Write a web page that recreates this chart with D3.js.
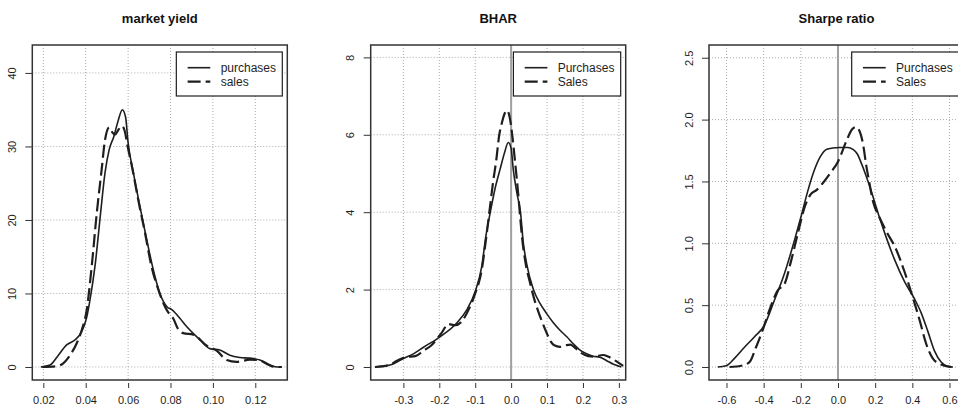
<!DOCTYPE html>
<html>
<head>
<meta charset="utf-8">
<script src="https://cdn.jsdelivr.net/npm/d3@7"></script>
<style>
  html, body { margin: 0; padding: 0; background: #fff; }
  svg { display: block; font-family: "Liberation Sans", Arial, Helvetica, sans-serif; }
</style>
</head>
<body>
<svg id="chart" width="958" height="406"></svg>
<script>
// Kernel density estimates of three performance measures: purchases vs sales.

const titles = ["market yield", "BHAR", "Sharpe ratio"];
const legendLabels = [["purchases", "sales"], ["Purchases", "Sales"], ["Purchases", "Sales"]];

// ---- market yield ----
const yieldXDomain = [0.0148, 0.1351];
const yieldYDomain = [-1.77, 43.8];
const yieldXTicks = [0.02, 0.04, 0.06, 0.08, 0.10, 0.12];
const yieldXLabels = ["0.02", "0.04", "0.06", "0.08", "0.10", "0.12"];
const yieldYTicks = [0, 10, 20, 30, 40];
const yieldYLabels = ["0", "10", "20", "30", "40"];
const yieldPurchases = [
  [0.0188, 0], [0.0232, 0.27], [0.0271, 1.6], [0.031, 3.0], [0.035, 3.7], [0.0381, 4.8],
  [0.0405, 6.8], [0.042, 9.1], [0.0445, 14.0], [0.047, 20.9], [0.0491, 26.4], [0.0511, 29.6],
  [0.0532, 31.3], [0.0552, 33.4], [0.0573, 35.0], [0.0588, 34.0], [0.060, 30.5], [0.0625, 26.4],
  [0.0656, 21.8], [0.0688, 17.3], [0.0719, 13.2], [0.075, 10.0], [0.0783, 8.2], [0.0806, 7.8],
  [0.0845, 6.6], [0.0876, 5.5], [0.0939, 3.7], [0.0986, 2.5], [0.1033, 2.3], [0.108, 1.6],
  [0.1127, 1.3], [0.1175, 1.2], [0.1222, 0.95], [0.127, 0.27], [0.1305, 0], [0.1325, 0]
];
const yieldSales = [
  [0.0195, 0], [0.0263, 0.1], [0.0294, 0.5], [0.0326, 1.6], [0.0357, 3.2], [0.0381, 5.0],
  [0.0405, 7.8], [0.0428, 13.6], [0.0452, 20.9], [0.0475, 26.8], [0.0491, 30.9], [0.0511, 32.6],
  [0.0526, 31.9], [0.0538, 31.6], [0.0555, 32.3], [0.057, 32.8], [0.0583, 32.2], [0.0598, 30.0],
  [0.062, 27.0], [0.0648, 22.7], [0.068, 18.2], [0.0711, 13.6], [0.0743, 10.5], [0.0774, 8.2],
  [0.0795, 7.2], [0.0813, 6.6], [0.0835, 5.2], [0.086, 4.6], [0.0908, 4.4], [0.0971, 2.9],
  [0.1019, 2.2], [0.1065, 0.95], [0.1112, 0.7], [0.1175, 1.0], [0.122, 0.9], [0.1262, 0.3],
  [0.1295, 0], [0.1325, 0]
];

// ---- BHAR ----
const bharXDomain = [-0.391, 0.319];
const bharYDomain = [-0.336, 8.32];
const bharXTicks = [-0.3, -0.2, -0.1, 0.0, 0.1, 0.2, 0.3];
const bharXLabels = ["-0.3", "-0.2", "-0.1", "0.0", "0.1", "0.2", "0.3"];
const bharYTicks = [0, 2, 4, 6, 8];
const bharYLabels = ["0", "2", "4", "6", "8"];
const bharPurchases = [
  [-0.379, 0], [-0.337, 0.05], [-0.3, 0.22], [-0.272, 0.34], [-0.244, 0.51], [-0.198, 0.78],
  [-0.152, 1.13], [-0.124, 1.47], [-0.1, 1.95], [-0.082, 2.59], [-0.07, 3.4], [-0.058, 4.0],
  [-0.045, 4.6], [-0.031, 5.1], [-0.018, 5.55], [-0.008, 5.8], [0.0, 5.65], [0.006, 5.1],
  [0.016, 4.5], [0.026, 4.0], [0.034, 3.2], [0.043, 2.68], [0.062, 2.0], [0.08, 1.65],
  [0.099, 1.38], [0.117, 1.15], [0.136, 0.95], [0.155, 0.78], [0.173, 0.6], [0.19, 0.45],
  [0.21, 0.34], [0.228, 0.28], [0.247, 0.25], [0.265, 0.17], [0.285, 0.07], [0.3, 0.02], [0.307, 0]
];
const bharSales = [
  [-0.379, 0], [-0.34, 0.05], [-0.318, 0.16], [-0.291, 0.26], [-0.267, 0.28], [-0.244, 0.42],
  [-0.221, 0.57], [-0.193, 0.89], [-0.175, 1.11], [-0.156, 1.08], [-0.138, 1.17], [-0.119, 1.47],
  [-0.1, 1.9], [-0.082, 2.5], [-0.07, 3.3], [-0.058, 4.2], [-0.05, 4.8], [-0.042, 5.3],
  [-0.033, 6.0], [-0.026, 6.3], [-0.018, 6.55], [-0.011, 6.63], [-0.004, 6.45], [0.003, 6.0],
  [0.011, 5.3], [0.02, 4.44], [0.024, 4.0], [0.031, 3.3], [0.04, 2.7], [0.052, 2.2],
  [0.063, 1.8], [0.075, 1.45], [0.087, 1.15], [0.099, 0.88], [0.11, 0.66], [0.12, 0.56],
  [0.136, 0.52], [0.152, 0.56], [0.165, 0.58], [0.18, 0.48], [0.196, 0.36], [0.215, 0.28],
  [0.232, 0.27], [0.256, 0.31], [0.27, 0.27], [0.289, 0.17], [0.312, 0.03]
];

// ---- Sharpe ratio ----
const sharpeXDomain = [-0.694, 0.678];
const sharpeYDomain = [-0.105, 2.603];
const sharpeXTicks = [-0.6, -0.4, -0.2, 0.0, 0.2, 0.4, 0.6];
const sharpeXLabels = ["-0.6", "-0.4", "-0.2", "0.0", "0.2", "0.4", "0.6"];
const sharpeYTicks = [0, 0.5, 1.0, 1.5, 2.0, 2.5];
const sharpeYLabels = ["0.0", "0.5", "1.0", "1.5", "2.0", "2.5"];
const sharpePurchases = [
  [-0.647, 0], [-0.602, 0.01], [-0.557, 0.07], [-0.503, 0.16], [-0.449, 0.245], [-0.399, 0.33],
  [-0.342, 0.54], [-0.288, 0.756], [-0.234, 1.025], [-0.198, 1.22], [-0.163, 1.42], [-0.13, 1.58],
  [-0.095, 1.7], [-0.06, 1.76], [-0.028, 1.77], [0.01, 1.775], [0.053, 1.775], [0.08, 1.76],
  [0.105, 1.72], [0.125, 1.65], [0.15, 1.55], [0.175, 1.44], [0.2, 1.32], [0.225, 1.2],
  [0.259, 1.05], [0.304, 0.87], [0.358, 0.69], [0.412, 0.55], [0.447, 0.44], [0.483, 0.29],
  [0.519, 0.13], [0.555, 0.04], [0.59, 0.005], [0.618, 0]
];
const sharpeSales = [
  [-0.584, 0], [-0.521, 0.01], [-0.476, 0.04], [-0.441, 0.16], [-0.405, 0.30], [-0.369, 0.46],
  [-0.324, 0.62], [-0.288, 0.67], [-0.252, 0.86], [-0.216, 1.08], [-0.18, 1.29], [-0.145, 1.40],
  [-0.116, 1.43], [-0.08, 1.49], [-0.04, 1.57], [0.0, 1.66], [0.046, 1.83], [0.075, 1.92],
  [0.096, 1.94], [0.115, 1.91], [0.135, 1.8], [0.153, 1.62], [0.165, 1.52], [0.19, 1.33],
  [0.22, 1.22], [0.259, 1.1], [0.313, 0.95], [0.358, 0.77], [0.403, 0.56], [0.439, 0.38],
  [0.474, 0.19], [0.51, 0.07], [0.555, 0.02], [0.609, 0]
];

const panels = [
  { title: titles[0], legend: legendLabels[0], xDomain: yieldXDomain, yDomain: yieldYDomain,
    xTicks: yieldXTicks, xLabels: yieldXLabels, yTicks: yieldYTicks, yLabels: yieldYLabels,
    purchases: yieldPurchases, sales: yieldSales, zeroLine: false },
  { title: titles[1], legend: legendLabels[1], xDomain: bharXDomain, yDomain: bharYDomain,
    xTicks: bharXTicks, xLabels: bharXLabels, yTicks: bharYTicks, yLabels: bharYLabels,
    purchases: bharPurchases, sales: bharSales, zeroLine: true },
  { title: titles[2], legend: legendLabels[2], xDomain: sharpeXDomain, yDomain: sharpeYDomain,
    xTicks: sharpeXTicks, xLabels: sharpeXLabels, yTicks: sharpeYTicks, yLabels: sharpeYLabels,
    purchases: sharpePurchases, sales: sharpeSales, zeroLine: true }
];

// Layout: three equal plot boxes side by side
const plotTop = 45, plotBottom = 380, boxW = 255;
const boxLefts = [32.3, 370.7, 709];
const ink = "#1e1e1e";
const dashPattern = "13 5";
const gridColor = "#aaaaaa";

const svg = d3.select("#chart");

panels.forEach((p, i) => {
  const L = boxLefts[i];
  const x = d3.scaleLinear().domain(p.xDomain).range([L, L + boxW]);
  const y = d3.scaleLinear().domain(p.yDomain).range([plotBottom, plotTop]);
  const g = svg.append("g");

  // dotted reference grid at the tick positions
  g.selectAll(null).data(p.xTicks).join("line")
    .attr("x1", d => x(d)).attr("x2", d => x(d))
    .attr("y1", plotTop).attr("y2", plotBottom)
    .attr("stroke", gridColor).attr("stroke-width", 1).attr("stroke-dasharray", "1 2");
  g.selectAll(null).data(p.yTicks).join("line")
    .attr("x1", L).attr("x2", L + boxW)
    .attr("y1", d => y(d)).attr("y2", d => y(d))
    .attr("stroke", gridColor).attr("stroke-width", 1).attr("stroke-dasharray", "1 2");

  // vertical marker at zero
  if (p.zeroLine) {
    g.append("line")
      .attr("x1", x(0)).attr("x2", x(0))
      .attr("y1", plotTop).attr("y2", plotBottom)
      .attr("stroke", "#a0a0a0").attr("stroke-width", 2);
  }

  // density curves
  const line = d3.line()
    .x(d => x(d[0])).y(d => y(d[1]))
    .curve(d3.curveMonotoneX);
  g.append("path").datum(p.purchases)
    .attr("d", line).attr("fill", "none")
    .attr("stroke", ink).attr("stroke-width", 1.6);
  g.append("path").datum(p.sales)
    .attr("d", line).attr("fill", "none")
    .attr("stroke", ink).attr("stroke-width", 2.2)
    .attr("stroke-dasharray", dashPattern);

  // plot frame
  g.append("rect")
    .attr("x", L).attr("y", plotTop)
    .attr("width", boxW).attr("height", plotBottom - plotTop)
    .attr("fill", "none").attr("stroke", "#333").attr("stroke-width", 1.5);

  // x axis (ticks sit just below the frame)
  const gx = g.append("g")
    .attr("transform", `translate(0,${plotBottom + 3})`)
    .call(d3.axisBottom(x).tickValues(p.xTicks)
      .tickFormat((d, j) => p.xLabels[j]).tickSize(5).tickPadding(8));
  gx.select(".domain").remove();
  gx.attr("font-size", 11).attr("font-family", null).attr("color", "#333");
  gx.selectAll("text").attr("fill", ink);

  // y axis with labels turned parallel to the axis
  const gy = g.append("g")
    .attr("transform", `translate(${L},0)`)
    .call(d3.axisLeft(y).tickValues(p.yTicks)
      .tickFormat((d, j) => p.yLabels[j]).tickSize(7));
  gy.select(".domain").remove();
  gy.attr("font-size", 11).attr("font-family", null).attr("color", "#333");
  gy.selectAll("text")
    .attr("x", 0).attr("dy", null)
    .attr("text-anchor", "middle")
    .attr("transform", "translate(-16.5,0) rotate(-90)")
    .attr("fill", ink);

  // title
  svg.append("text")
    .attr("x", L + boxW / 2).attr("y", 23)
    .attr("text-anchor", "middle")
    .attr("font-size", 13).attr("font-weight", "bold")
    .attr("fill", "#111")
    .text(p.title);

  // legend in the top-right corner
  const lg = g.append("g");
  const legRight = L + boxW - 5;
  const legTop = 52, legH = 44;
  const rows = [legTop + 15.7, legTop + 29.7];
  const bg = lg.append("rect");
  const labels = lg.selectAll(null).data(p.legend).join("text")
    .attr("y", (d, j) => rows[j]).attr("dy", "0.34em")
    .attr("font-size", 12).attr("fill", ink)
    .text(d => d);
  const textW = d3.max(labels.nodes(), n => n.getComputedTextLength());
  const legW = 44.3 + textW + 6.3;
  const legL = legRight - legW;
  bg.attr("x", legL).attr("y", legTop).attr("width", legW).attr("height", legH)
    .attr("fill", "#fff").attr("stroke", ink).attr("stroke-width", 1.2);
  labels.attr("x", legL + 44.3);
  lg.selectAll(null).data([0, 1]).join("line")
    .attr("x1", legL + 11.3).attr("x2", legL + 34)
    .attr("y1", j => rows[j]).attr("y2", j => rows[j])
    .attr("stroke", ink)
    .attr("stroke-width", j => j === 0 ? 1.6 : 2.2)
    .attr("stroke-dasharray", j => j === 0 ? null : dashPattern);
});
</script>
</body>
</html>
